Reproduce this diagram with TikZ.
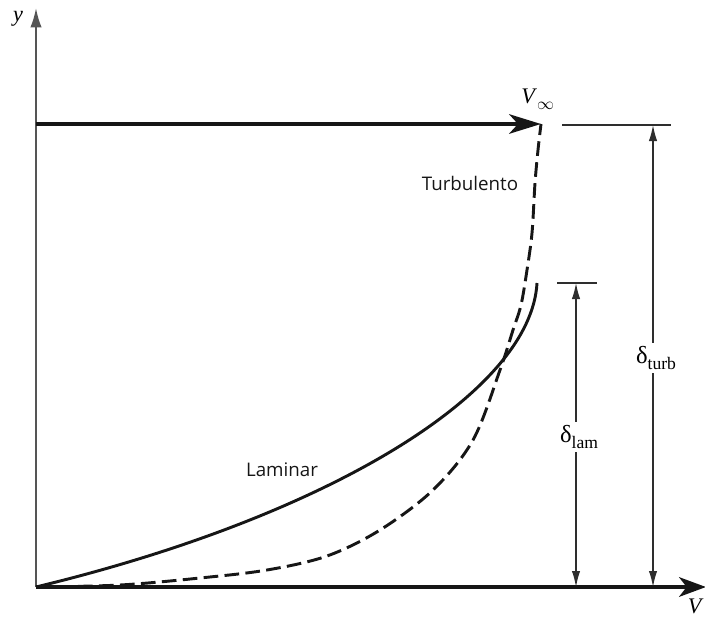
\documentclass[tikz,border=0pt]{standalone}
\usepackage{fontspec}
\setmainfont{Liberation Serif}
\newfontfamily\labelfont{Open Sans}
\usetikzlibrary{arrows.meta,positioning,calc}
\definecolor{ink}{HTML}{161616}
\definecolor{axisgray}{HTML}{555555}
\definecolor{dimgray}{HTML}{2E2E2E}

\tikzset{
  profile/.style={ink,line width=2.5pt,line join=round},
  dimline/.style={dimgray,line width=1.1pt},
  dimtip/.style={dimline,-{Latex[length=4.8mm,width=2.5mm]}},
  mathlabel/.style={font=\fontsize{19}{21}\selectfont,inner sep=1pt},
  curvelabel/.style={font=\labelfont\fontsize{16}{18}\selectfont,text=ink}
}
\newcommand{\lowsub}[1]{\raisebox{-5pt}{\fontsize{15}{15}\selectfont #1}}

\begin{document}
\begin{tikzpicture}[x=0.3mm,y=-0.3mm,>=Latex]
    \useasboundingbox (0,0) rectangle (705,624);
    % axes, free stream and the two thickness marks
    \coordinate (O) at (36,587);
    \coordinate (ytop) at (36,8);
    \coordinate (xend) at (706,587);
    \coordinate (vstart) at (36,124);
    \coordinate (vend) at (541,124);
    \coordinate (lamend) at (537,283);

    \draw[axisgray,line width=1.7pt,-{Latex[length=5.8mm,width=3.4mm]}] (O) -- (ytop);
    \draw[ink,line width=4pt,-{Stealth[length=8mm,width=5.8mm,inset=2.2mm]}] (O) -- (xend);
    \draw[ink,line width=4pt,-{Stealth[length=9.5mm,width=5.8mm,inset=2.6mm]}] (vstart) -- (vend);

    \draw[profile,dash pattern=on 4.4mm off 1.9mm] plot[smooth,tension=0.55] coordinates {
      (O) (120,585) (200,578) (267,570) (327,556) (380,530) (433,490)
      (473,440) (500,370) (513,330) (521,305) (527,270) (532,233) (535,183) (538,150) (vend)};
    \draw[profile] (O) .. controls (330,516) and (531,392) .. (lamend);

    \node[curvelabel] (turb) at (470,183) {Turbulento};
    \node[curvelabel] (lam) at (282,470) {Laminar};

    \node[mathlabel,anchor=base] (ylab) at (18,22) {\textit{y}};
    \node[mathlabel,anchor=base west] (vinf) at (520,104) {\textit{V}\lowsub{$\infty$}};
    \node[mathlabel,anchor=north east] (vlab) at (705,598) {\textit{V}};

    \foreach \name/\x/\ytick/\xa/\xb/\sub/\ylab in
        {dturb/653/125/562/671/turb/358, dlam/576/283/557/597/lam/437} {
      \draw[dimline] (\xa,\ytick) -- (\xb,\ytick);
      \coordinate (\name top) at (\x,\ytick);
      \coordinate (\name bot) at (\x,587);
      \node[mathlabel,inner ysep=3pt] (\name) at (\x+3,\ylab) {{\fontsize{21}{21}\selectfont δ}\lowsub{\sub}};
      \draw[dimtip] (\name.north -| \name top) -- (\name top);
      \draw[dimtip] (\name.south -| \name bot) -- (\name bot);
    }
\end{tikzpicture}
\end{document}
